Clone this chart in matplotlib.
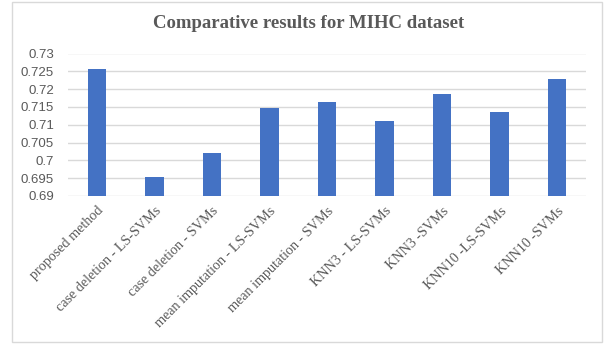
import matplotlib
matplotlib.use("Agg")
import matplotlib.pyplot as plt
from matplotlib.patches import Rectangle

categories = ["proposed method", "case deletion - LS-SVMs", "case deletion - SVMs",
              "mean imputation - LS-SVMs", "mean imputation - SVMs", "KNN3 - LS-SVMs",
              "KNN3 -SVMs", "KNN10 -LS-SVMs", "KNN10 -SVMs"]
values = [0.7257, 0.6953, 0.7021, 0.7147, 0.7164, 0.7111, 0.7187, 0.7136, 0.7228]
yticks = [0.69, 0.695, 0.7, 0.705, 0.71, 0.715, 0.72, 0.725, 0.73]
ytick_labels = ["0.69", "0.695", "0.7", "0.705", "0.71", "0.715", "0.72", "0.725", "0.73"]
title = "Comparative results for MIHC dataset"

fig = plt.figure(figsize=(6.12, 3.48), dpi=100)
fig.patches.append(Rectangle((12/612, 1 - 342/348), (602-12)/612, (342-2)/348,
                             transform=fig.transFigure, fill=False,
                             edgecolor="#D9D9D9", linewidth=1.0))
ax = fig.add_axes([68/612, 1 - 196/348, (586-68)/612, (196-53.5)/348])
x = list(range(len(categories)))
ax.bar(x, values, width=0.32, color="#4472C4", zorder=3)
ax.set_xlim(-0.5, len(categories) - 0.5)
ax.set_ylim(0.69, 0.73)
ax.set_yticks(yticks)
ax.set_yticklabels(ytick_labels, fontfamily="Liberation Sans", fontsize=9.5, color="#595959")
ax.grid(axis="y", color="#D9D9D9", linewidth=1.0, zorder=0)
for s in ax.spines.values():
    s.set_visible(False)
ax.tick_params(axis="both", length=0)
ax.tick_params(axis="y", pad=10)
ax.set_xticks(x)
ax.set_xticklabels(categories, rotation=45, ha="right", rotation_mode="anchor",
                   fontfamily="Liberation Serif", fontsize=10.2, color="#595959")
ax.tick_params(axis="x", pad=6)
fig.text(0.505, 1 - 23/348, title, ha="center", va="center", fontfamily="Liberation Serif",
         fontweight="bold", fontsize=13.5, color="#595959")
fig.savefig("out.png", dpi=100)
